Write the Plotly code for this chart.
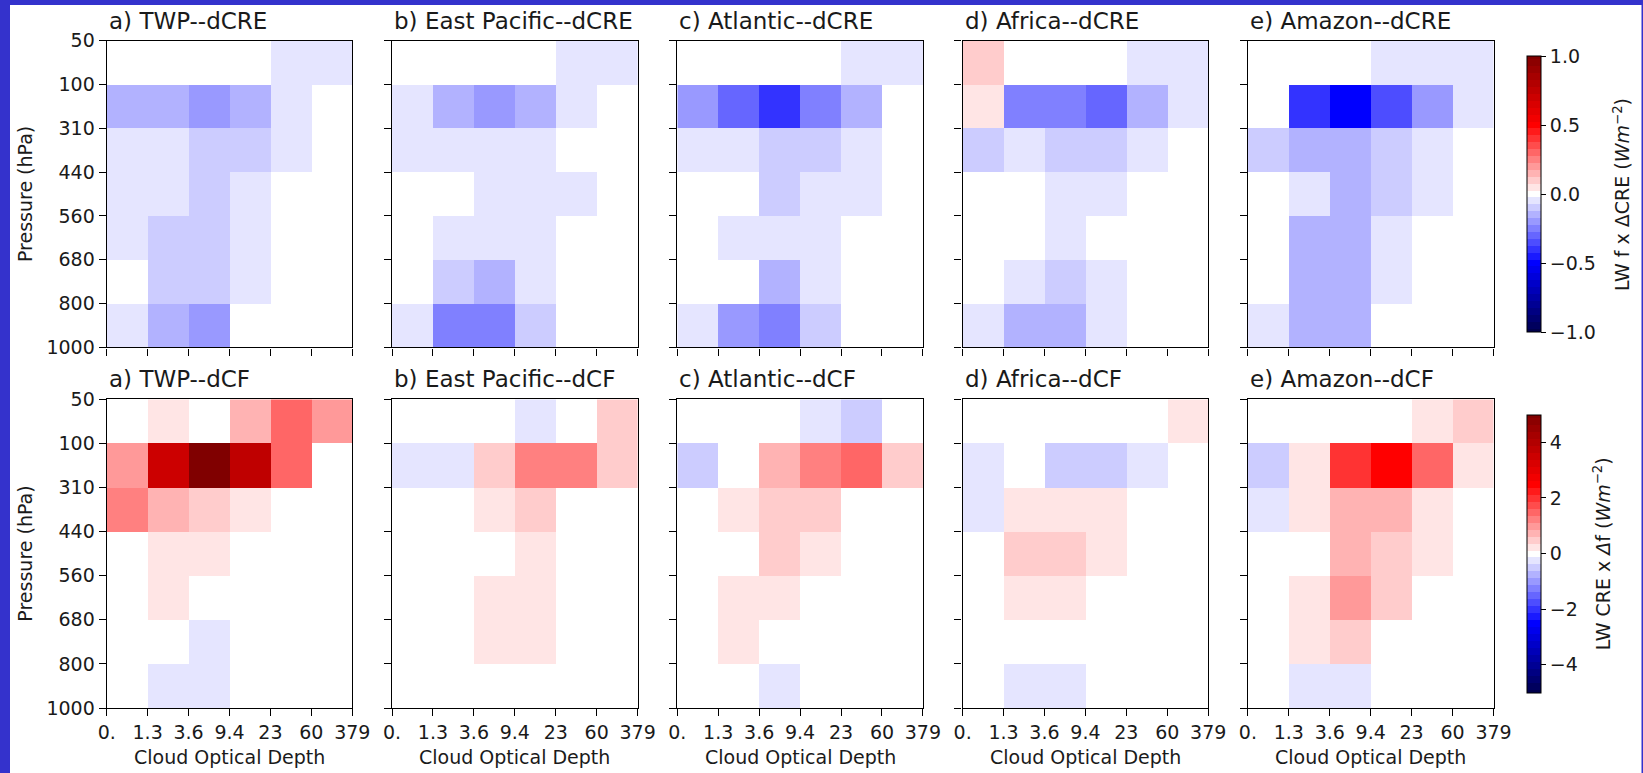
import plotly.graph_objects as go

W, H = 1643, 773

# ---- bin labels -------------------------------------------------------------
tau_edges = ["0.", "1.3", "3.6", "9.4", "23", "60", "379"]
p_edges = ["50", "100", "310", "440", "560", "680", "800", "1000"]
regions = ["a) TWP", "b) East Pacific", "c) Atlantic", "d) Africa", "e) Amazon"]

# ---- LW f x dCRE (W m-2); rows = pressure bins (top->bottom), cols = tau bins
twp_dcre = [
    [0, 0, 0, 0, -0.05, -0.05],
    [-0.15, -0.15, -0.2, -0.15, -0.05, 0],
    [-0.05, -0.05, -0.1, -0.1, -0.05, 0],
    [-0.05, -0.05, -0.1, -0.05, 0, 0],
    [-0.05, -0.1, -0.1, -0.05, 0, 0],
    [0, -0.1, -0.1, -0.05, 0, 0],
    [-0.05, -0.15, -0.2, 0, 0, 0],
]
epac_dcre = [
    [0, 0, 0, 0, -0.05, -0.05],
    [-0.05, -0.15, -0.2, -0.15, -0.05, 0],
    [-0.05, -0.05, -0.05, -0.05, 0, 0],
    [0, 0, -0.05, -0.05, -0.05, 0],
    [0, -0.05, -0.05, -0.05, 0, 0],
    [0, -0.1, -0.15, -0.05, 0, 0],
    [-0.05, -0.25, -0.25, -0.1, 0, 0],
]
atl_dcre = [
    [0, 0, 0, 0, -0.05, -0.05],
    [-0.2, -0.3, -0.4, -0.25, -0.15, 0],
    [-0.05, -0.05, -0.1, -0.1, -0.05, 0],
    [0, 0, -0.1, -0.05, -0.05, 0],
    [0, -0.05, -0.05, -0.05, 0, 0],
    [0, 0, -0.15, -0.05, 0, 0],
    [-0.05, -0.2, -0.25, -0.1, 0, 0],
]
afr_dcre = [
    [0.1, 0, 0, 0, -0.05, -0.05],
    [0.05, -0.25, -0.25, -0.3, -0.15, -0.05],
    [-0.1, -0.05, -0.1, -0.1, -0.05, 0],
    [0, 0, -0.05, -0.05, 0, 0],
    [0, 0, -0.05, 0, 0, 0],
    [0, -0.05, -0.1, -0.05, 0, 0],
    [-0.05, -0.15, -0.15, -0.05, 0, 0],
]
amz_dcre = [
    [0, 0, 0, -0.05, -0.05, -0.05],
    [0, -0.4, -0.5, -0.35, -0.2, -0.05],
    [-0.1, -0.15, -0.15, -0.1, -0.05, 0],
    [0, -0.05, -0.15, -0.1, -0.05, 0],
    [0, -0.15, -0.15, -0.05, 0, 0],
    [0, -0.15, -0.15, -0.05, 0, 0],
    [-0.05, -0.15, -0.15, 0, 0, 0],
]

# ---- LW CRE x df (W m-2) ------------------------------------------------------
twp_dcf = [
    [0, 0.25, 0, 0.75, 1.5, 1.0],
    [1.0, 3.5, 5.0, 3.75, 1.5, 0],
    [1.25, 0.75, 0.5, 0.25, 0, 0],
    [0, 0.25, 0.25, 0, 0, 0],
    [0, 0.25, 0, 0, 0, 0],
    [0, 0, -0.25, 0, 0, 0],
    [0, -0.25, -0.25, 0, 0, 0],
]
epac_dcf = [
    [0, 0, 0, -0.25, 0, 0.5],
    [-0.25, -0.25, 0.5, 1.25, 1.25, 0.5],
    [0, 0, 0.25, 0.5, 0, 0],
    [0, 0, 0, 0.25, 0, 0],
    [0, 0, 0.25, 0.25, 0, 0],
    [0, 0, 0.25, 0.25, 0, 0],
    [0, 0, 0, 0, 0, 0],
]
atl_dcf = [
    [0, 0, 0, -0.25, -0.5, 0],
    [-0.5, 0, 0.75, 1.25, 1.5, 0.5],
    [0, 0.25, 0.5, 0.5, 0, 0],
    [0, 0, 0.5, 0.25, 0, 0],
    [0, 0.25, 0.25, 0, 0, 0],
    [0, 0.25, 0, 0, 0, 0],
    [0, 0, -0.25, 0, 0, 0],
]
afr_dcf = [
    [0, 0, 0, 0, 0, 0.25],
    [-0.25, 0, -0.5, -0.5, -0.25, 0],
    [-0.25, 0.25, 0.25, 0.25, 0, 0],
    [0, 0.5, 0.5, 0.25, 0, 0],
    [0, 0.25, 0.25, 0, 0, 0],
    [0, 0, 0, 0, 0, 0],
    [0, -0.25, -0.25, 0, 0, 0],
]
amz_dcf = [
    [0, 0, 0, 0, 0.25, 0.5],
    [-0.5, 0.25, 2.0, 2.5, 1.5, 0.25],
    [-0.25, 0.25, 0.75, 0.75, 0.25, 0],
    [0, 0, 0.75, 0.5, 0.25, 0],
    [0, 0.25, 1.0, 0.5, 0, 0],
    [0, 0.25, 0.5, 0, 0, 0],
    [0, -0.25, -0.25, 0, 0, 0],
]

rows = [
    ("dCRE", [twp_dcre, epac_dcre, atl_dcre, afr_dcre, amz_dcre], "coloraxis"),
    ("dCF", [twp_dcf, epac_dcf, atl_dcf, afr_dcf, amz_dcf], "coloraxis2"),
]


# ---- stepped "seismic" colour scale --------------------------------------------
def seismic(t):
    pts = [(0.0, (0, 0, 0.3)), (0.25, (0, 0, 1)), (0.5, (1, 1, 1)),
           (0.75, (1, 0, 0)), (1.0, (0.5, 0, 0))]
    for (t0, c0), (t1, c1) in zip(pts[:-1], pts[1:]):
        if t <= t1 + 1e-12:
            f = (t - t0) / (t1 - t0)
            rgb = [c0[k] + f * (c1[k] - c0[k]) for k in range(3)]
            return "rgb(%d,%d,%d)" % tuple(round(255 * v) for v in rgb)
    return "rgb(128,0,0)"


NBIN = 41                      # bins centred on multiples of range/40
edges = [0.0] + [round((2 * k - 1) / 80, 6) for k in range(1, NBIN)] + [1.0]
scale = []
for j in range(NBIN):
    col = seismic(j / (NBIN - 1))
    scale.append([edges[j], col])
    scale.append([edges[j + 1], col])

# ---- geometry (pixels) -----------------------------------------------------------
col_left = [106.7 + 285.3 * c for c in range(5)]
col_w = 245.6
row_top = [40.7, 399.3]
row_h = [306.7, 308.7]

FONT = "DejaVu Sans"
TXT = "#1a1a1a"

fig = go.Figure()
layout = {}
annotations = []

for r, (tag, panels, cax) in enumerate(rows):
    y0 = 1 - (row_top[r] + row_h[r]) / H
    y1 = 1 - row_top[r] / H
    for c, z in enumerate(panels):
        i = r * 5 + c + 1
        sfx = "" if i == 1 else str(i)
        fig.add_trace(go.Heatmap(
            z=z, x0=0.5, dx=1, y0=0.5, dy=1,
            coloraxis=cax, xaxis="x" + sfx, yaxis="y" + sfx,
            hoverinfo="skip",
        ))
        x0 = col_left[c] / W
        x1 = (col_left[c] + col_w) / W
        common = dict(
            showline=True, linecolor="black", linewidth=1.3, mirror=True,
            ticks="outside", ticklen=7, tickwidth=1.3, tickcolor="black",
            showgrid=False, zeroline=False, fixedrange=True,
            tickfont=dict(family=FONT, size=19, color=TXT),
        )
        layout["xaxis" + sfx] = dict(
            common, domain=[x0, x1], range=[0, 6], anchor="y" + sfx,
            tickvals=list(range(7)), ticktext=tau_edges,
            showticklabels=(r == 1),
        )
        layout["yaxis" + sfx] = dict(
            common, domain=[y0, y1], range=[7, 0], anchor="x" + sfx,
            tickvals=list(range(8)), ticktext=p_edges,
            showticklabels=(c == 0),
        )
        annotations.append(dict(
            text=f"{regions[c]}--{tag}", xref="paper", yref="paper",
            x=x0, y=1 - (row_top[r] - 20) / H, xanchor="left", yanchor="middle",
            showarrow=False, font=dict(family=FONT, size=23, color=TXT),
        ))
        if r == 1:
            annotations.append(dict(
                text="Cloud Optical Depth", xref="paper", yref="paper",
                x=(x0 + x1) / 2, y=1 - 756.7 / H, xanchor="center", yanchor="middle",
                showarrow=False, font=dict(family=FONT, size=19, color=TXT),
            ))
    annotations.append(dict(
        text="Pressure (hPa)", xref="paper", yref="paper", textangle=-90,
        x=25 / W, y=1 - (row_top[r] + row_h[r] / 2) / H,
        xanchor="center", yanchor="middle",
        showarrow=False, font=dict(family=FONT, size=19, color=TXT),
    ))

cb_common = dict(
    thickness=14, thicknessmode="pixels", lenmode="fraction",
    x=1526.7 / W, xanchor="left", yanchor="middle", xpad=0, ypad=0,
    outlinewidth=1, outlinecolor="black",
    ticks="outside", ticklen=5, tickwidth=1, tickcolor="black",
    tickfont=dict(family=FONT, size=19, color=TXT),
)
layout["coloraxis"] = dict(
    colorscale=scale, cmin=-1, cmax=1,
    colorbar=dict(cb_common, y=1 - 194.2 / H, len=276.3 / H,
                  tickvals=[-1, -0.5, 0, 0.5, 1],
                  ticktext=["\u22121.0", "\u22120.5", "0.0", "0.5", "1.0"]),
)
layout["coloraxis2"] = dict(
    colorscale=scale, cmin=-5, cmax=5,
    colorbar=dict(cb_common, y=1 - 553.5 / H, len=278.4 / H,
                  tickvals=[-4, -2, 0, 2, 4],
                  ticktext=["\u22124", "\u22122", "0", "2", "4"]),
)

annotations.append(dict(
    text="LW f x \u0394CRE (<i>Wm</i><sup>\u22122</sup>)", xref="paper", yref="paper",
    textangle=-90, x=1621.7 / W, y=1 - 194.2 / H, xanchor="center", yanchor="middle",
    showarrow=False, font=dict(family=FONT, size=19, color=TXT),
))
annotations.append(dict(
    text="LW CRE x <i>\u0394</i>f (<i>Wm</i><sup>\u22122</sup>)", xref="paper", yref="paper",
    textangle=-90, x=1601.7 / W, y=1 - 553.5 / H, xanchor="center", yanchor="middle",
    showarrow=False, font=dict(family=FONT, size=19, color=TXT),
))

# blue frame along the left, top and right edges of the figure
BORDER = "#3432cc"
frame = [
    dict(x0=0, x1=10 / W, y0=0, y1=1),
    dict(x0=0, x1=1, y0=1 - 5 / H, y1=1),
    dict(x0=1641.5 / W, x1=1, y0=0, y1=1),
]
shapes = [dict(type="rect", xref="paper", yref="paper", layer="above",
               fillcolor=BORDER, line=dict(width=0), **f) for f in frame]

fig.update_layout(
    **layout,
    width=W, height=H, autosize=False,
    margin=dict(l=0, r=0, t=0, b=0, pad=0, autoexpand=False),
    paper_bgcolor="white", plot_bgcolor="white",
    annotations=annotations,
    shapes=shapes,
    font=dict(family=FONT, color=TXT),
    showlegend=False,
)

fig.write_html("out.html", config={"displayModeBar": False})
